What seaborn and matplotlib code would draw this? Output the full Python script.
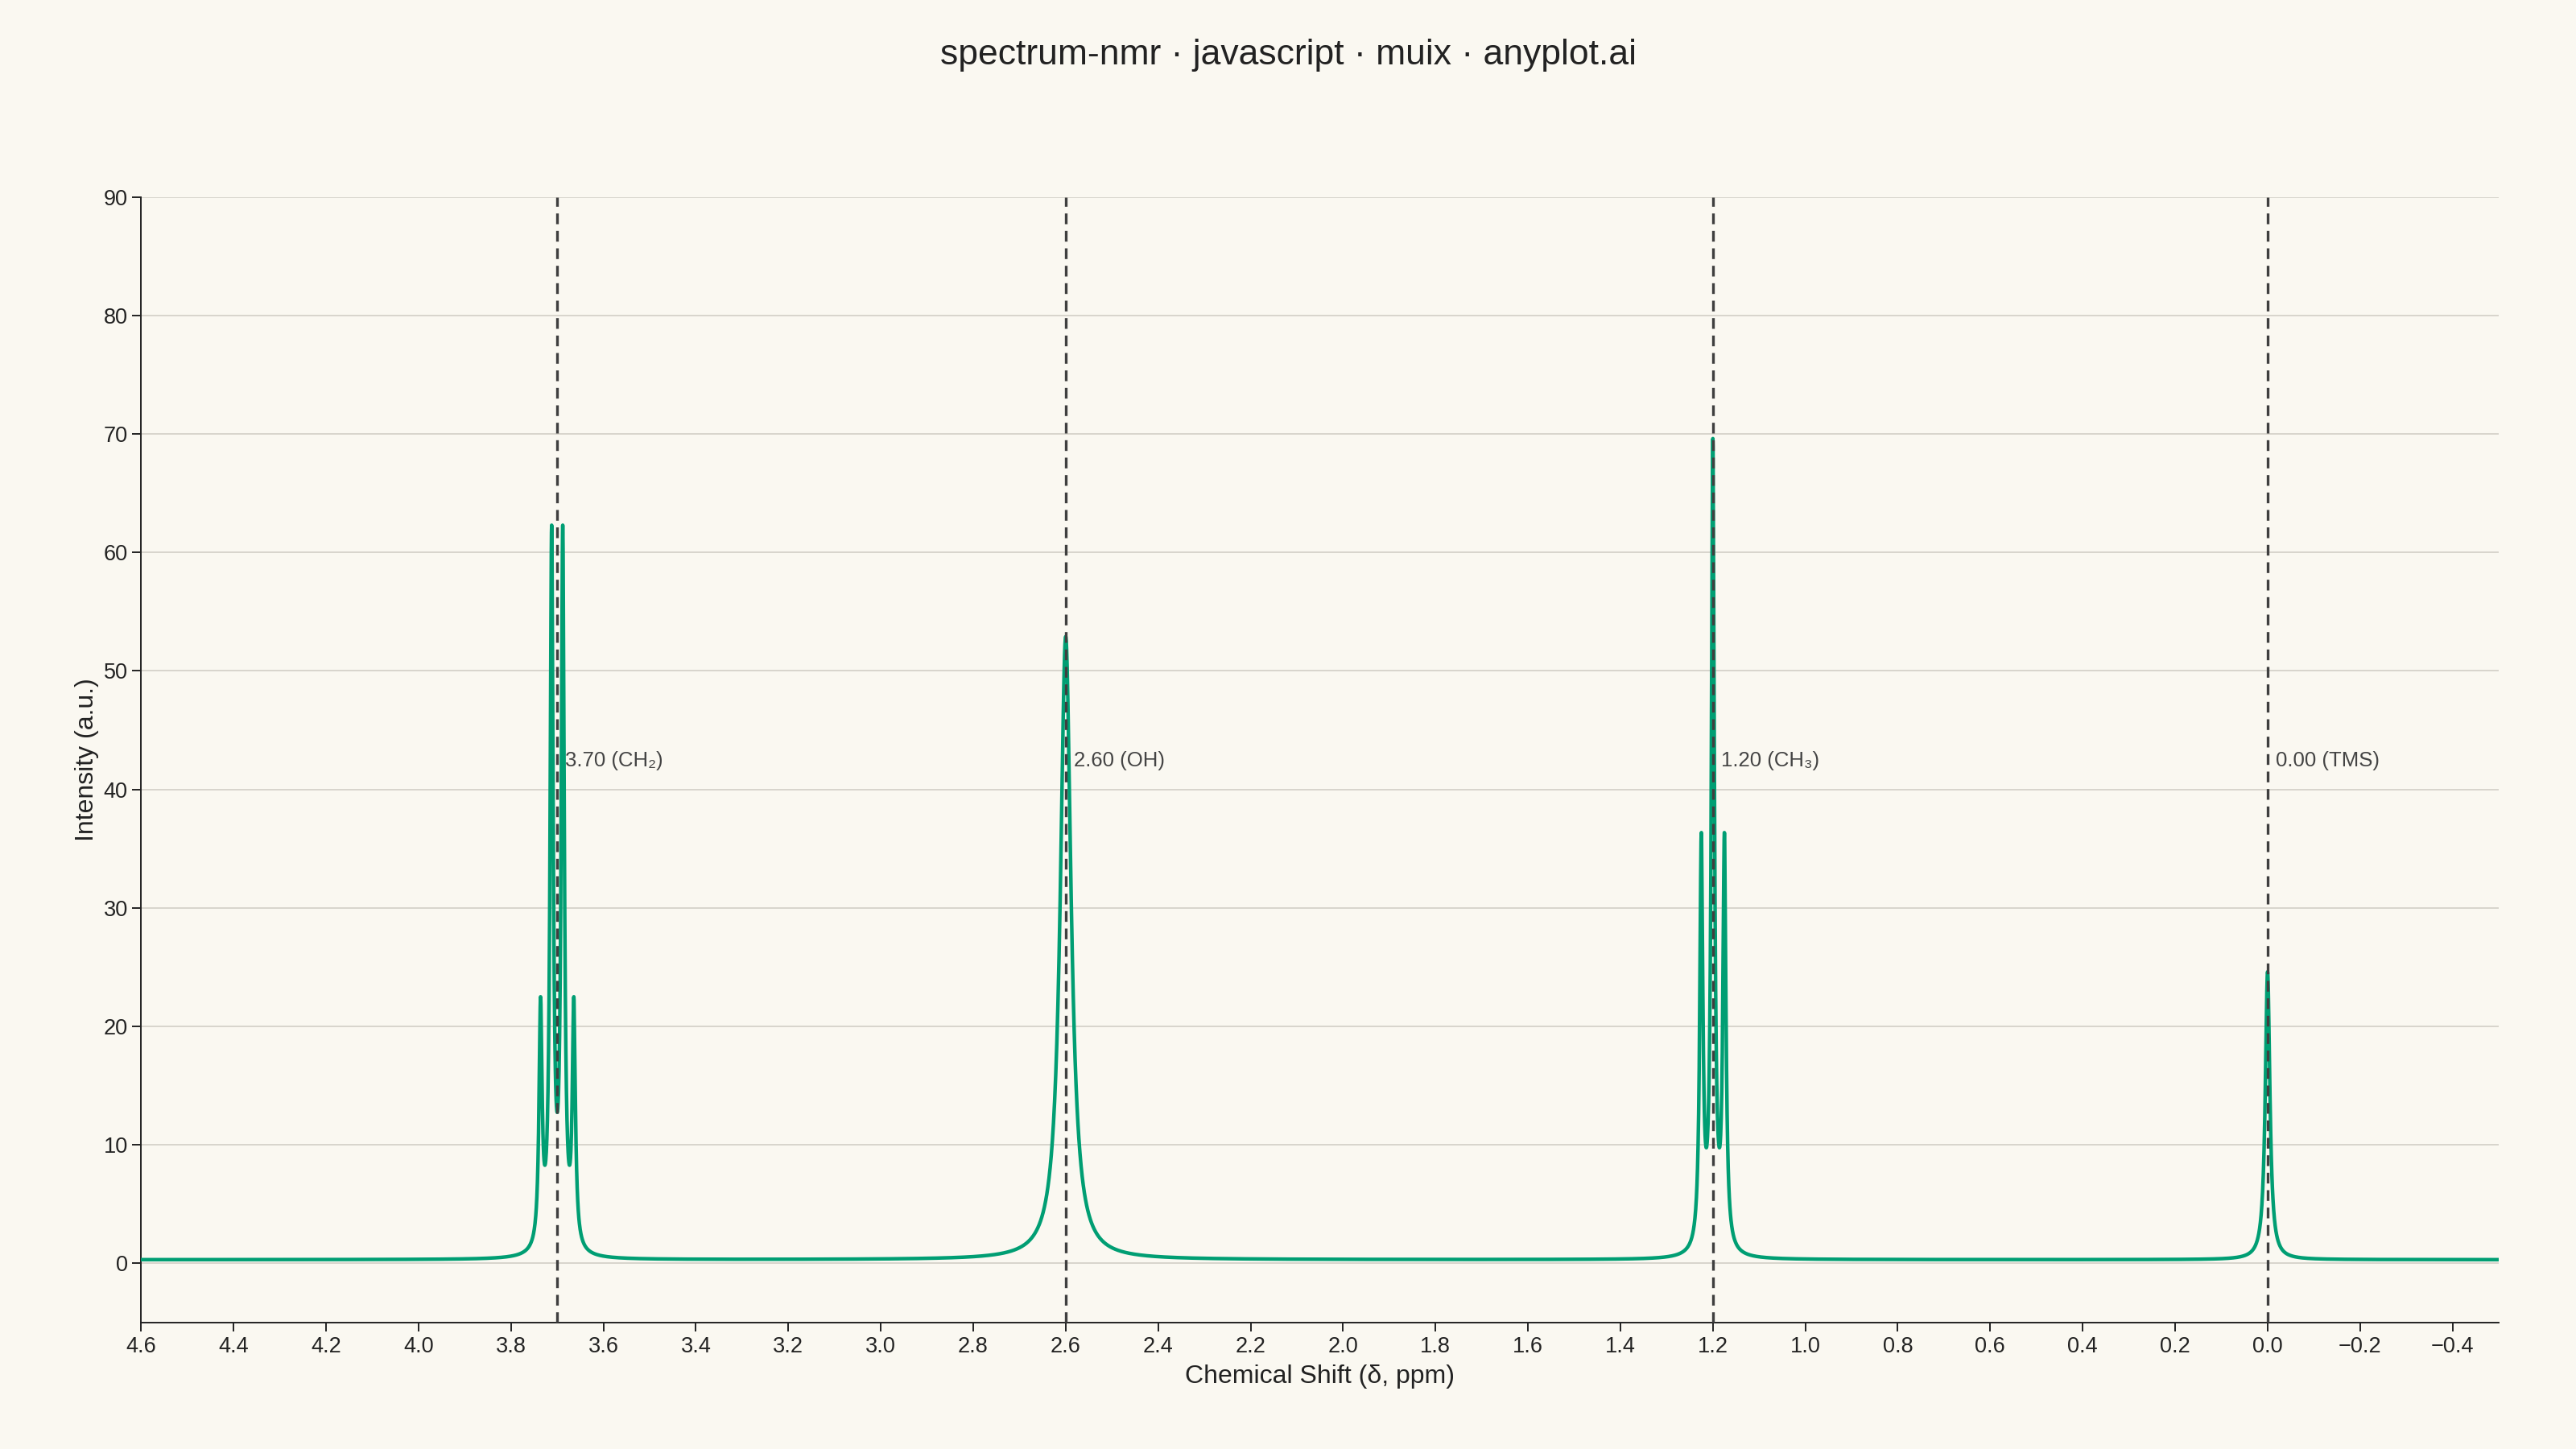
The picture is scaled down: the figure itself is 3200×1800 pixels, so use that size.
import numpy as np
import pandas as pd
import matplotlib.pyplot as plt
import seaborn as sns

# peak list: shift (ppm), height (a.u.), half width at half max (ppm)
peak_shift = [3.736, 3.712, 3.688, 3.664, 2.60, 1.225, 1.20, 1.175, 0.00]
peak_height = [20.1, 59.7, 59.7, 20.1, 52.6, 34.2, 67.6, 34.2, 24.3]
peak_hwhm = [0.004, 0.004, 0.004, 0.004, 0.014, 0.004, 0.004, 0.004, 0.006]
baseline = 0.3

label_shift = [3.70, 2.60, 1.20, 0.00]
label_text = ['3.70 (CH₂)', '2.60 (OH)', '1.20 (CH₃)', '0.00 (TMS)']
label_y = 42.4

xticks = [4.6, 4.4, 4.2, 4.0, 3.8, 3.6, 3.4, 3.2, 3.0, 2.8, 2.6, 2.4, 2.2, 2.0,
          1.8, 1.6, 1.4, 1.2, 1.0, 0.8, 0.6, 0.4, 0.2, 0.0, -0.2, -0.4]
yticks = [0, 10, 20, 30, 40, 50, 60, 70, 80, 90]

# lorentzian line shapes summed over the peak list
shift = np.arange(-0.5, 4.6 + 0.0002, 0.0004)
intensity = np.full_like(shift, baseline)
for x0, h, w in zip(peak_shift, peak_height, peak_hwhm):
    intensity += h * w**2 / ((shift - x0)**2 + w**2)
df = pd.DataFrame({'shift': shift, 'intensity': intensity})

bg = '#FAF8F1'
sns.set_theme(style="white")
plt.rcParams['font.family'] = ['Liberation Sans', 'DejaVu Sans']

fig = plt.figure(figsize=(32, 18), dpi=100, facecolor=bg)
ax = fig.add_axes([0.0548, 0.0873, 0.9152, 0.7767])
ax.set_facecolor(bg)

for y in yticks:
    ax.axhline(y, color='#D8D5CD', lw=1.4, zorder=0)

sns.lineplot(data=df, x='shift', y='intensity', color='#009E73', lw=3.2,
             estimator=None, sort=False, ax=ax, zorder=3)

for x0, txt in zip(label_shift, label_text):
    ax.axvline(x0, color='#3F3F3F', lw=2.4, ls=(0, (4, 2.5)), zorder=4)
    ax.annotate(txt, xy=(x0, label_y), xytext=(7, 0), textcoords='offset points',
                ha='left', va='center', fontsize=18.5, color='#444444', zorder=5)

ax.set_xlim(4.6, -0.5)
ax.set_ylim(-5, 90)
ax.set_xticks(xticks)
ax.set_xticklabels([f'{t:.1f}'.replace('-', '\u2212') for t in xticks])
ax.set_yticks(yticks)

for side in ['top', 'right']:
    ax.spines[side].set_visible(False)
for side in ['left', 'bottom']:
    ax.spines[side].set_color('#222222')
    ax.spines[side].set_linewidth(1.4)

ax.tick_params(axis='both', which='major', direction='out', length=8, width=1.4,
               color='#222222', labelsize=19.5, labelcolor='#222222', pad=4,
               left=True, bottom=True)

ax.set_xlabel('Chemical Shift (δ, ppm)', fontsize=23, color='#222222', labelpad=7)
ax.set_ylabel('Intensity (a.u.)', fontsize=23, color='#222222', labelpad=4)

fig.suptitle('spectrum-nmr · javascript · muix · anyplot.ai', fontsize=32,
             color='#222222', y=0.962, va='center')

fig.savefig('out.png', dpi=100, facecolor=bg)
